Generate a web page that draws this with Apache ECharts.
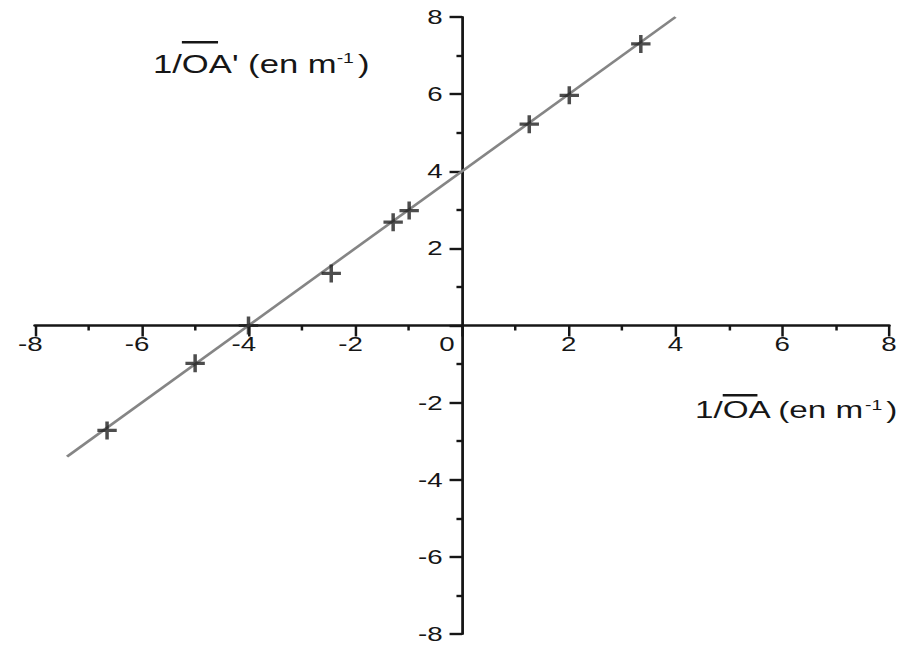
<!DOCTYPE html>
<html>
<head>
<meta charset="utf-8">
<script src="https://cdn.jsdelivr.net/npm/echarts@6/dist/echarts.min.js"></script>
<style>
  html, body { margin: 0; padding: 0; background: #ffffff; overflow: hidden; }
  #wrap { width: 903px; height: 647px; overflow: hidden; }
  #chart { height: 647px; transform-origin: 0 0; }
</style>
</head>
<body>
<div id="wrap"><div id="chart"></div></div>
<script>
// Plot of 1/OA' against 1/OA (both in m^-1); the figure is drawn with
// equal units and then widened horizontally.
const STRETCH = 1.385;
const PAGE_W = 903;
const PAGE_H = 647;

// measured points
const pointX = [-6.65, -5.0, -4.0, -2.45, -1.29, -0.99, 1.26, 2.01, 3.35];
const pointY = [-2.72, -0.98, 0.0, 1.35, 2.68, 2.98, 5.22, 5.97, 7.3];

// fitted straight line (end points)
const fitX = [-7.4, 4.0];
const fitY = [-3.4, 8.0];

// axis range and tick spacing
const axisMin = -8;
const axisMax = 8;
const tickStep = 2;

const FONT = '"Liberation Sans", Arial, sans-serif';
const INK = '#161616';

const el = document.getElementById('chart');
const innerW = PAGE_W / STRETCH;
el.style.width = innerW + 'px';
el.style.transform = 'scaleX(' + STRETCH + ')';

// plot area
const gridLeft = 35 / STRETCH;
const gridRight = (PAGE_W - 889) / STRETCH;
const gridTop = 17;
const gridBottom = 13;
const gridW = innerW - gridLeft - gridRight;
const gridH = PAGE_H - gridTop - gridBottom;
// axes cross at the origin: shift them in from the grid edges
const zeroFrac = (0 - axisMin) / (axisMax - axisMin);
const yAxisShift = -gridW * zeroFrac;
const xAxisShift = -gridH * zeroFrac;

const measureCtx = document.createElement('canvas').getContext('2d');
function textWidth(s, size) {
  measureCtx.font = size + 'px ' + FONT;
  return measureCtx.measureText(s).width;
}

// axis title with an overline on "OA"
function axisTitle(left, middleY, size, rest, barY) {
  const xO = left + textWidth('1/', size);
  const barW = textWidth('O', size) + 0.4 * textWidth('A', size);
  return {
    type: 'group',
    children: [
      {
        type: 'text',
        x: left, y: middleY,
        style: {
          text: '1/OA' + rest + ' (en m{sup|-1})',
          fontSize: size, fontFamily: FONT, fill: INK,
          verticalAlign: 'middle', align: 'left',
          rich: {
            sup: { fontSize: 14, fontFamily: FONT, fill: INK, verticalAlign: 'top', padding: [0, 3, 0, 0] }
          }
        }
      },
      {
        type: 'rect',
        shape: { x: xO, y: barY, width: barW, height: 2.4 },
        style: { fill: INK }
      }
    ]
  };
}

const chart = echarts.init(el, null, { renderer: 'svg' });

const fitData = fitX.map((x, i) => [x, fitY[i]]);
const pointData = pointX.map((x, i) => [x, pointY[i]]);

const plus = 'path://M-1.8,-10H1.8V-1.8H10V1.8H1.8V10H-1.8V1.8H-10V-1.8H-1.8Z';

chart.setOption({
  animation: false,
  backgroundColor: '#ffffff',
  grid: {
    left: gridLeft,
    right: gridRight,
    top: gridTop,
    bottom: gridBottom,
    containLabel: false,
    outerBoundsMode: 'none'
  },
  xAxis: {
    type: 'value',
    position: 'bottom',
    offset: xAxisShift,
    min: axisMin, max: axisMax, interval: tickStep,
    axisLine: { onZero: false, lineStyle: { color: INK, width: 2.6 } },
    axisTick: { show: true, length: 11, lineStyle: { color: INK, width: 1.8 } },
    minorTick: { show: true, splitNumber: 2, length: 5, lineStyle: { color: INK, width: 1.8 } },
    splitLine: { show: false },
    minorSplitLine: { show: false },
    axisLabel: {
      margin: 8,
      color: INK, fontSize: 20, fontFamily: FONT,
      formatter: function (v) {
        if (v === 0) return '{zero|0}';
        if (v < 0) return '{neg|' + v + '}';
        return String(v);
      },
      rich: {
        neg: { fontSize: 20, fontFamily: FONT, color: INK, padding: [0, 6.7, 0, 0] },
        zero: { fontSize: 20, fontFamily: FONT, color: INK, padding: [0, 21.6, 0, 0] }
      }
    }
  },
  yAxis: {
    type: 'value',
    position: 'left',
    offset: yAxisShift,
    min: axisMin, max: axisMax, interval: tickStep,
    axisLine: { onZero: false, lineStyle: { color: INK, width: 2 } },
    axisTick: { show: true, length: 9, lineStyle: { color: INK, width: 2.4 } },
    minorTick: { show: true, splitNumber: 2, length: 4, lineStyle: { color: INK, width: 2.4 } },
    splitLine: { show: false },
    minorSplitLine: { show: false },
    axisLabel: {
      margin: 14,
      color: INK, fontSize: 20, fontFamily: FONT,
      formatter: function (v) { return v === 0 ? '' : String(v); }
    }
  },
  graphic: [
    axisTitle(153 / STRETCH, 64, 25, "'", 41),
    axisTitle(695 / STRETCH, 410, 24, '', 394)
  ],
  series: [
    {
      type: 'line',
      data: fitData,
      showSymbol: false,
      symbol: 'none',
      lineStyle: { color: '#858585', width: 2.3 },
      z: 2
    },
    {
      type: 'scatter',
      data: pointData,
      symbol: plus,
      symbolSize: [14, 18],
      itemStyle: { color: '#202020' },
      z: 3
    }
  ]
});
</script>
</body>
</html>
